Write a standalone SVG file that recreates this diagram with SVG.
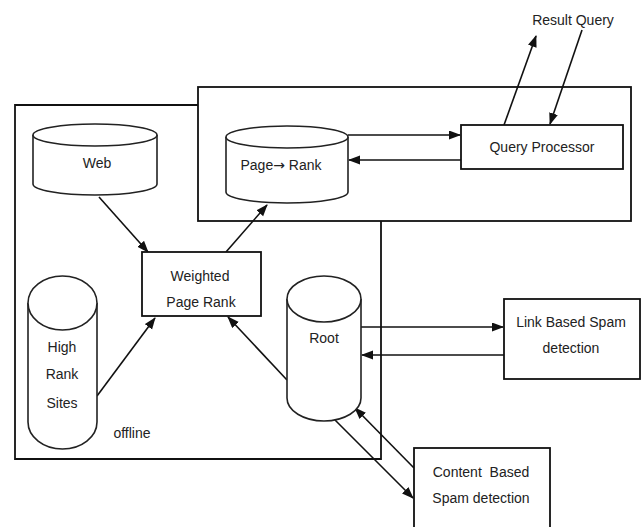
<svg xmlns="http://www.w3.org/2000/svg" width="644" height="527" viewBox="0 0 644 527">
<style>
.ln{fill:none;stroke:#111;stroke-width:1.6}
.bx{fill:#fff;stroke:#111;stroke-width:1.8}
.cy{fill:#fff;stroke:#222;stroke-width:1.6}
.ar{fill:none;stroke:#111;stroke-width:1.6;marker-end:url(#ah)}
text{font-family:"Liberation Sans",Arial,sans-serif;font-size:14px;fill:#222;text-anchor:middle}
.sym{font-family:"DejaVu Sans",sans-serif;font-size:14px}
</style>
<defs>
<marker id="ah" markerUnits="userSpaceOnUse" markerWidth="12" markerHeight="10" refX="11" refY="4.5" orient="auto">
<path d="M0,0 L12,4.5 L0,9 z" fill="#111"/>
</marker>
</defs>
<rect width="644" height="527" fill="#fff"/>
<g id="frames">
<rect class="ln" x="198" y="87" width="433" height="134" style="stroke-width:1.8"/>
<path class="ln" d="M198,105 H15 V459 H381 V221" style="stroke-width:1.8"/>
</g>
<g id="connectors">
<line class="ar" x1="99" y1="197" x2="148" y2="252"/>
<line class="ar" x1="226" y1="252" x2="267" y2="205"/>
<line class="ar" x1="97" y1="396" x2="155" y2="318"/>
<line class="ar" x1="287" y1="380" x2="228" y2="317"/>
<line class="ar" x1="348" y1="135" x2="460" y2="135"/>
<line class="ar" x1="461" y1="160" x2="349" y2="160"/>
<line class="ar" x1="504" y1="125" x2="536" y2="36"/>
<line class="ar" x1="582" y1="30" x2="550" y2="124"/>
<line class="ar" x1="361" y1="327" x2="503" y2="327"/>
<line class="ar" x1="504" y1="355" x2="362" y2="355"/>
<line class="ar" x1="414" y1="468" x2="355" y2="408"/>
<line class="ar" x1="335" y1="420" x2="413" y2="498"/>
</g>
<g id="web">
<path class="cy" d="M33,135 V184 A62,11 0 0 0 157,184 V135"/>
<ellipse class="cy" cx="95" cy="135" rx="62" ry="11"/>
<text x="97" y="168">Web</text>
</g>
<g id="pagerank">
<path class="cy" d="M226,137 V192 A61,11 0 0 0 348,192 V137"/>
<ellipse class="cy" cx="287" cy="137" rx="61" ry="11"/>
<text x="281" y="170">Page<tspan class="sym">→</tspan> Rank</text>
</g>
<g id="queryprocessor">
<rect class="bx" x="461" y="125" width="162" height="44"/>
<text x="542" y="152">Query Processor</text>
</g>
<g id="resultquery">
<text x="573" y="25">Result Query</text>
</g>
<g id="weighted">
<rect class="bx" x="142" y="252" width="119" height="64"/>
<text x="200" y="281">Weighted</text>
<text x="201" y="307">Page Rank</text>
</g>
<g id="highrank">
<path class="cy" d="M28,303 V422 A34.5,27 0 0 0 97,422 V303"/>
<ellipse class="cy" cx="62.5" cy="303" rx="34.5" ry="27"/>
<text x="62" y="352">High</text>
<text x="62" y="379">Rank</text>
<text x="62" y="408">Sites</text>
</g>
<g id="offline">
<text x="132" y="438">offline</text>
</g>
<g id="root">
<path class="cy" d="M287,299 V398 A37,23 0 0 0 361,398 V299"/>
<ellipse class="cy" cx="324" cy="299" rx="37" ry="23"/>
<text x="324" y="343">Root</text>
</g>
<g id="linkspam">
<rect class="bx" x="504" y="299" width="136" height="80"/>
<text x="571" y="327">Link Based Spam</text>
<text x="571" y="353">detection</text>
</g>
<g id="contentspam">
<rect class="bx" x="414" y="448" width="136" height="90"/>
<text x="481" y="477" xml:space="preserve">Content  Based</text>
<text x="481" y="503">Spam detection</text>
</g>
</svg>
